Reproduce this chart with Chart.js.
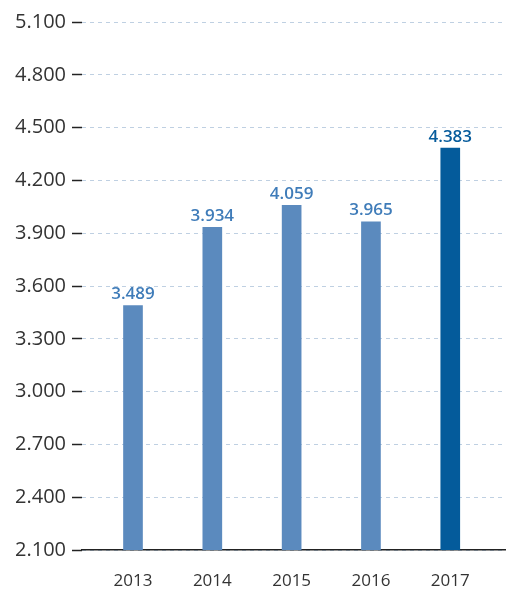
<!DOCTYPE html>
<html>
<head>
<meta charset="utf-8">
<script src="https://cdn.jsdelivr.net/npm/chart.js@4"></script>
<style>
  html, body { margin: 0; padding: 0; background: #fff; }
  #wrap { width: 507px; height: 590px; }
</style>
</head>
<body>
<div id="wrap"><canvas id="chart"></canvas></div>
<script>
const years = [2013, 2014, 2015, 2016, 2017];
const values = [3489, 3934, 4059, 3965, 4383];
const yTicks = [2100, 2400, 2700, 3000, 3300, 3600, 3900, 4200, 4500, 4800, 5100];

const barColors = ['#5b8abe', '#5b8abe', '#5b8abe', '#5b8abe', '#045b9b'];
const labelColors = ['#3f7cb9', '#3f7cb9', '#3f7cb9', '#3f7cb9', '#075c9c'];

function fmt(v) {
    return String(v).replace(/\B(?=(\d{3})+(?!\d))/g, '.');
}

// value labels above bars
const valueLabels = {
    id: 'valueLabels',
    afterDatasetsDraw(chart) {
        const ctx = chart.ctx;
        const meta = chart.getDatasetMeta(0);
        ctx.save();
        ctx.font = '600 17px "Open Sans"';
        ctx.textAlign = 'center';
        ctx.textBaseline = 'bottom';
        meta.data.forEach((bar, i) => {
            ctx.fillStyle = labelColors[i];
            ctx.fillText(fmt(values[i]), bar.x, bar.y - 3);
        });
        ctx.restore();
    }
};

new Chart(document.getElementById('chart'), {
    type: 'bar',
    data: {
        datasets: [{
            data: years.map((y, i) => ({ x: y, y: values[i] })),
            backgroundColor: barColors,
            barThickness: 19
        }]
    },
    options: {
        responsive: true,
        maintainAspectRatio: false,
        animation: false,
        layout: { padding: { top: 22, right: 2, left: 0, bottom: 0 } },
        plugins: {
            legend: { display: false },
            tooltip: { enabled: false }
        },
        scales: {
            x: {
                type: 'linear',
                offset: false,
                min: 2012.357,
                max: 2017.69,
                afterBuildTicks: scale => { scale.ticks = years.map(v => ({ value: v })); },
                afterFit: scale => { scale.height = 40; },
                grid: { display: false, drawTicks: false },
                border: { display: true, color: '#222', width: 1.5 },
                ticks: {
                    padding: 21,
                    color: '#333',
                    font: { family: 'Open Sans', size: 17 },
                    callback: v => String(v)
                }
            },
            y: {
                min: 2100,
                max: 5100,
                afterBuildTicks: scale => { scale.ticks = yTicks.map(v => ({ value: v })); },
                afterFit: scale => { scale.width = 82; },
                border: { display: false, dash: [4, 4] },
                grid: {
                    color: '#bfd0e2',
                    lineWidth: 1,
                    tickLength: 10,
                    tickColor: '#222',
                    tickWidth: 1.5,
                    tickBorderDash: []
                },
                ticks: {
                    padding: 6,
                    color: '#333',
                    font: { family: 'Open Sans', size: 20 },
                    callback: v => fmt(v)
                }
            }
        }
    },
    plugins: [valueLabels]
});
</script>
</body>
</html>
